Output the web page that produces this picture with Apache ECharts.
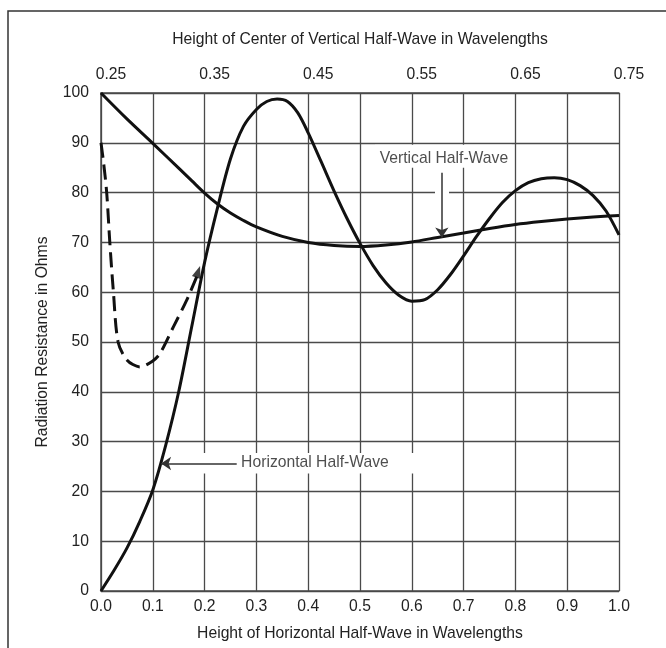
<!DOCTYPE html>
<html>
<head>
<meta charset="utf-8">
<script src="https://cdn.jsdelivr.net/npm/echarts@6/dist/echarts.min.js"></script>
<style>
html,body{margin:0;padding:0;background:#fff;}
#chart{width:666px;height:648px;}
</style>
</head>
<body>
<div id="chart"></div>
<script>
// ---- data ----
const topTickLabels = ['0.25', '0.35', '0.45', '0.55', '0.65', '0.75'];

const horizX = [0,0.025,0.05,0.075,0.1,0.125,0.15,0.175,0.2,0.225,0.25,0.275,0.3,0.32,0.34,0.36,0.38,0.4,0.425,0.45,0.475,0.5,0.525,0.55,0.575,0.6,0.625,0.65,0.675,0.7,0.725,0.75,0.775,0.8,0.825,0.85,0.875,0.9,0.925,0.95,0.975,1.0];
const horizY = [0,4.1,8.6,14.0,20.3,29.3,40.0,53.0,66.0,77.0,86.8,93.3,96.7,98.3,98.8,98.3,96.0,92.0,86.2,80.3,74.8,69.8,65.4,61.9,59.4,58.2,58.5,60.5,63.6,67.3,71.2,74.8,78.0,80.4,82.0,82.8,83.0,82.6,81.4,79.4,76.3,71.5];

const vertX = [0,0.05,0.1,0.15,0.175,0.2,0.225,0.25,0.275,0.3,0.35,0.4,0.45,0.5,0.55,0.6,0.65,0.7,0.75,0.8,0.85,0.9,0.95,1.0];
const vertY = [100,94.8,89.9,84.9,82.4,79.9,77.7,75.9,74.4,73.1,71.2,70.0,69.4,69.2,69.5,70.1,71.0,71.9,72.8,73.6,74.2,74.7,75.1,75.4];

const dashX = [0,0.005,0.011,0.017,0.024,0.033,0.05,0.075,0.1,0.114,0.14,0.165,0.186];
const dashY = [90,86,80,70,60,50,46.4,45,46.2,47.7,53.1,58.3,63.4];
const dashArrowTip = [0.1875, 64.1];

const vertLabel = 'Vertical Half-Wave';
const horizLabel = 'Horizontal Half-Wave';

function pairs(xs, ys){ return xs.map((x,i)=>[x, ys[i]]); }

const FONT = "'Liberation Sans', Arial, Helvetica, sans-serif";
const FS = 15.7;
const TXT = '#222';
const GRID = '#4a4a4a';
const SMOOTH = 0.3;

const chart = echarts.init(document.getElementById('chart'), null, {renderer:'canvas'});
chart.setOption({
  backgroundColor: '#fff',
  animation: false,
  textStyle: {fontFamily: FONT},
  grid: {left: 101, right: 47, top: 93, bottom: 57, outerBoundsMode: 'none', containLabel: false},
  graphic: [{
    type: 'rect', shape: {x: 8, y: 11, width: 700, height: 700},
    style: {fill: 'none', stroke: '#333', lineWidth: 1.5}, silent: true, z: 0
  }],
  xAxis: [{
    type: 'value', position: 'bottom', min: 0, max: 1, interval: 0.1,
    name: 'Height of Horizontal Half-Wave in Wavelengths',
    nameLocation: 'middle', nameGap: 35,
    nameTextStyle: {color: TXT, fontSize: FS, fontFamily: FONT},
    axisLine: {show: true, lineStyle: {color: GRID, width: 1.5}},
    axisTick: {show: false},
    axisLabel: {color: TXT, fontSize: FS, fontFamily: FONT, margin: 8,
      formatter: v => v.toFixed(1)},
    splitLine: {show: true, lineStyle: {color: GRID, width: 1.3}}
  }, {
    type: 'value', position: 'top', min: 0, max: 1, interval: 0.2,
    name: 'Height of Center of Vertical Half-Wave in Wavelengths',
    nameLocation: 'middle', nameGap: 45,
    nameTextStyle: {color: TXT, fontSize: FS, fontFamily: FONT},
    axisLine: {show: true, lineStyle: {color: GRID, width: 1.5}},
    axisTick: {show: false},
    axisLabel: {color: TXT, fontSize: FS, fontFamily: FONT, margin: 10,
      padding: [0, 0, 0, 20],
      formatter: v => topTickLabels[Math.round(v / 0.2)]},
    splitLine: {show: false}
  }],
  yAxis: [{
    type: 'value', min: 0, max: 100, interval: 10,
    name: 'Radiation Resistance in Ohms',
    nameLocation: 'middle', nameGap: 50, nameRotate: 90,
    nameTextStyle: {color: TXT, fontSize: FS, fontFamily: FONT},
    axisLine: {show: true, lineStyle: {color: GRID, width: 1.5}},
    axisTick: {show: false},
    axisLabel: {color: TXT, fontSize: FS, fontFamily: FONT, margin: 12},
    splitLine: {show: true, lineStyle: {color: GRID, width: 1.3}}
  }],
  series: [
    { // white boxes behind annotations
      type: 'line', data: [], z: 1, silent: true,
      markArea: {silent: true, itemStyle: {color: '#fff'}, label: {show: false},
        data: [
          [{coord: [0.529, 85.0]}, {coord: [0.793, 89.6]}],
          [{coord: [0.18, 23.6]}, {coord: [0.62, 27.7]}]
        ]},
      markLine: {silent: true, symbol: ['none','none'], label: {show: false},
        lineStyle: {color: '#fff', width: 14, type: 'solid'},
        data: [[{coord: [0.658, 85]}, {coord: [0.658, 73.5]}]]}
    },
    {
      name: 'Vertical Half-Wave', type: 'line', data: pairs(vertX, vertY),
      smooth: SMOOTH, showSymbol: false, z: 3,
      lineStyle: {color: '#111', width: 3}
    },
    {
      name: 'Horizontal Half-Wave', type: 'line', data: pairs(horizX, horizY),
      smooth: SMOOTH, showSymbol: false, z: 3,
      lineStyle: {color: '#111', width: 3}
    },
    {
      name: 'Horizontal dashed', type: 'line', data: pairs(dashX, dashY),
      smooth: SMOOTH, showSymbol: false, z: 3,
      lineStyle: {color: '#111', width: 3, type: [15, 7]}
    },
    {
      type: 'scatter', data: [dashArrowTip], z: 4, silent: true,
      symbol: 'triangle', symbolSize: [9, 12], symbolRotate: -19,
      itemStyle: {color: '#111'}
    },
    { // annotations
      type: 'scatter', z: 5, silent: true, symbolSize: 0,
      data: [
        {value: [0.662, 86.9], label: {formatter: vertLabel}},
        {value: [0.413, 25.7], label: {formatter: horizLabel}}
      ],
      label: {show: true, position: 'inside', color: TXT, fontSize: FS, fontFamily: FONT},
      markLine: {silent: true, symbol: ['none','arrow'], symbolSize: 10, label: {show: false},
        lineStyle: {color: '#333', width: 1.5, type: 'solid'},
        data: [
          [{coord: [0.658, 84]}, {coord: [0.658, 71.0]}],
          [{coord: [0.262, 25.6]}, {coord: [0.116, 25.6]}]
        ]}
    }
  ]
});
</script>
</body>
</html>
